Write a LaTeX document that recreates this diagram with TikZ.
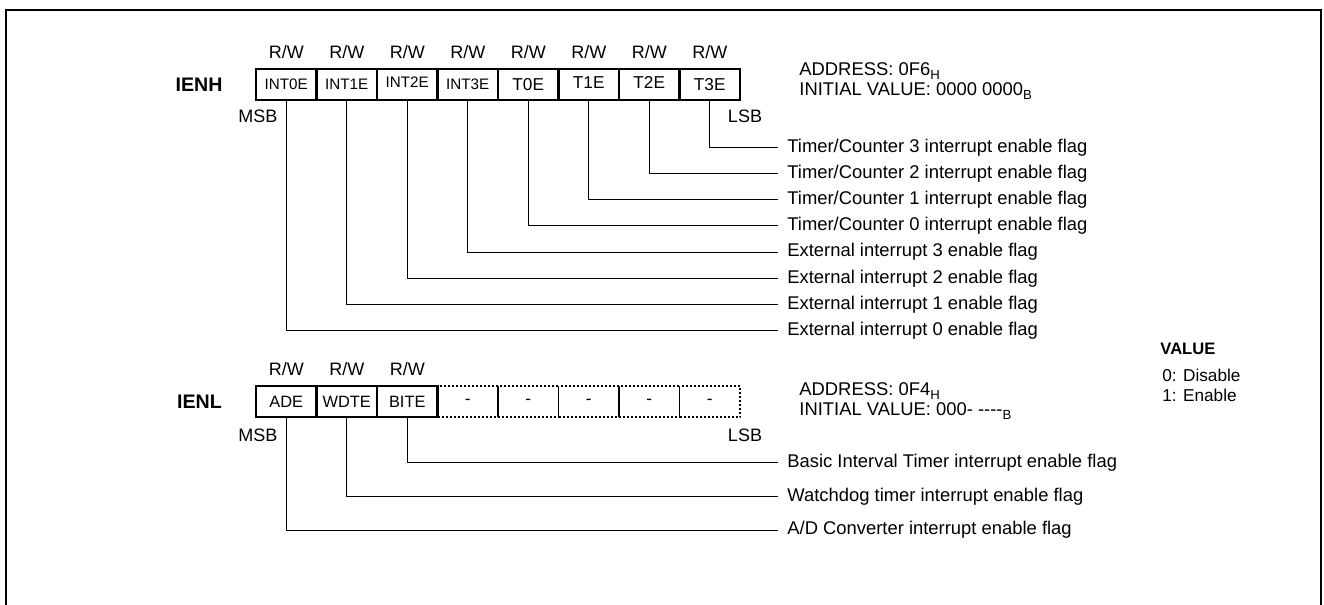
\documentclass[tikz,border=0pt]{standalone}
\usepackage{fontspec}
\setmainfont{Liberation Sans}
\usetikzlibrary{positioning}
\newcommand\lowsub[1]{\raisebox{-2.4pt}{\fontsize{6.6}{7}\selectfont #1}}
\tikzset{
  regcell/.style  = {rectangle, draw, line width=1.4pt,
                     minimum width=30.25pt, minimum height=15.5pt,
                     inner sep=0pt, text centered},
  nocell/.style   = {regcell, line width=0.9pt, dash pattern=on 1pt off 1pt,
                     font=\fontsize{8.6}{10}\selectfont},
  access/.style   = {font=\fontsize{9}{11}\selectfont},
  regname/.style  = {font=\fontsize{9.8}{12}\selectfont\bfseries},
  flagtext/.style = {anchor=west, inner xsep=4.5pt, inner ysep=0pt,
                     font=\fontsize{9.2}{11}\selectfont},
  addr/.style     = {anchor=west, align=left, inner sep=0pt,
                     font=\fontsize{9.2}{10}\selectfont},
  leader/.style   = {line width=0.5pt},
}

\begin{document}
\begin{tikzpicture}[x=0.5pt, y=-0.5pt]
  \useasboundingbox (0,0) rectangle (1324,605);
  \draw[line width=1pt] (6,605) -- (6,9.5) -- (1321,9.5) -- (1321,605);

  % IENH
  \node[regname] (ienh) at (199,84.5) {IENH};
  \foreach \txt/\fs/\dy [count=\i from 0] in
      {INT0E/7.6/0, INT1E/7.6/0, INT2E/7.6/2.2, INT3E/7.6/0,
       T0E/8.6/0, T1E/8.6/2.2, T2E/8.6/2.2, T3E/8.6/0} {
    \node[regcell, font=\fontsize{\fs}{10}\selectfont] (h\i)
          at ({286.25+60.5*\i},84.5) {\raisebox{\dy pt}{\txt}};
    \node[access, above=1pt of h\i] (hrw\i) {R/W};
  }
  \node[access] (hmsb) at (258,116) {MSB};
  \node[access] (hlsb) at (745,116) {LSB};
  \node[addr] (hadr) at (799,81)
        {ADDRESS: 0F6\lowsub{H}\\INITIAL VALUE: 0000 0000\lowsub{B}};
  \foreach \i/\txt in {7/{Timer/Counter 3 interrupt enable flag},
                       6/{Timer/Counter 2 interrupt enable flag},
                       5/{Timer/Counter 1 interrupt enable flag},
                       4/{Timer/Counter 0 interrupt enable flag},
                       3/{External interrupt 3 enable flag},
                       2/{External interrupt 2 enable flag},
                       1/{External interrupt 1 enable flag},
                       0/{External interrupt 0 enable flag}} {
    \node[flagtext] (hf\i) at (778,{330.7-26.2*\i}) {\txt};
    \draw[leader] (h\i) |- (hf\i);
  }

  % IENL
  \node[regname] (ienl) at (199.5,401.5) {IENL};
  \foreach \i in {3,...,7}
    \node[nocell] (l\i) at ({286.25+60.5*\i},401.5) {-};
  \foreach \txt [count=\i from 0] in {ADE, WDTE, BITE} {
    \node[regcell, font=\fontsize{8.2}{10}\selectfont] (l\i)
          at ({286.25+60.5*\i},401.5) {\txt};
    \node[access, above=1pt of l\i] (lrw\i) {R/W};
  }
  \node[access] (lmsb) at (258,435) {MSB};
  \node[access] (llsb) at (745,435) {LSB};
  \node[addr] (ladr) at (799,401)
        {ADDRESS: 0F4\lowsub{H}\\INITIAL VALUE: 000- -{}-{}-{}-\lowsub{B}};
  \foreach \i/\txt in {2/{Basic Interval Timer interrupt enable flag},
                       1/{Watchdog timer interrupt enable flag},
                       0/{A/D Converter interrupt enable flag}} {
    \node[flagtext] (lf\i) at (778,{530-33.65*\i}) {\txt};
    \draw[leader] (l\i) |- (lf\i);
  }

  % value legend
  \node[addr, font=\fontsize{8.3}{10}\selectfont\bfseries] (val) at (1160,349) {VALUE};
  \node[addr, font=\fontsize{8.6}{10}\selectfont] (vals) at (1162,385)
        {0: Disable\\1: Enable};
\end{tikzpicture}
\end{document}
